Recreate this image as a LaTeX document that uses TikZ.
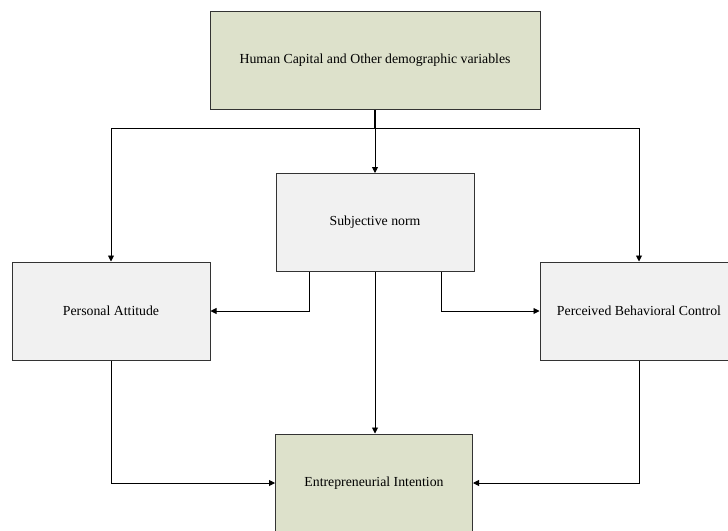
\documentclass[tikz,border=0pt]{standalone}
\usepackage{fontspec}
\setmainfont{Liberation Serif}
\usetikzlibrary{arrows.meta}
\definecolor{boxgreen}{HTML}{DDE1CB}
\definecolor{boxgray}{HTML}{F1F1F1}
\definecolor{edge}{HTML}{333333}
\begin{document}
\begin{tikzpicture}[x=1pt,y=-1pt,
  every node/.style={font=\fontsize{13.8}{16}\selectfont},
  gbox/.style={draw=edge,line width=1pt,fill=boxgreen,minimum height=98pt,inner sep=0pt},
  wbox/.style={draw=edge,line width=1pt,fill=boxgray,minimum width=198pt,minimum height=98pt,inner sep=0pt},
  conn/.style={draw=black,line width=0.9pt},
  arr/.style={conn,-{Triangle[length=6pt,width=6pt]}}]
\clip (0,0) rectangle (728,530);
\useasboundingbox (0,0) rectangle (728,530);
\node[gbox,minimum width=330pt] (top) at (375,60.5) {Human Capital and Other demographic variables};
\node[wbox] (sn) at (375,222.5) {Subjective norm};
\node[wbox] (pa) at (111,311) {Personal Attitude};
\node[wbox] (pbc) at (639,311) {Perceived Behavioral Control};
\node[gbox,minimum width=197pt] (ei) at (374,483) {Entrepreneurial Intention};
\coordinate (split) at (375,128);
\draw[conn,line width=1.5pt] (top.south) -- (split);
\draw[arr] (split) -| (pa.north);
\draw[arr] (split) -| (pbc.north);
\draw[arr] (split) -- (sn.north);
\draw[arr] ([xshift=-66pt]sn.south) |- (pa.east);
\draw[arr] ([xshift=66pt]sn.south) |- (pbc.west);
\draw[arr] (sn.south) -- (sn.south |- ei.north);
\draw[arr] (pa.south) |- (ei.west);
\draw[arr] (pbc.south) |- (ei.east);
\end{tikzpicture}
\end{document}
